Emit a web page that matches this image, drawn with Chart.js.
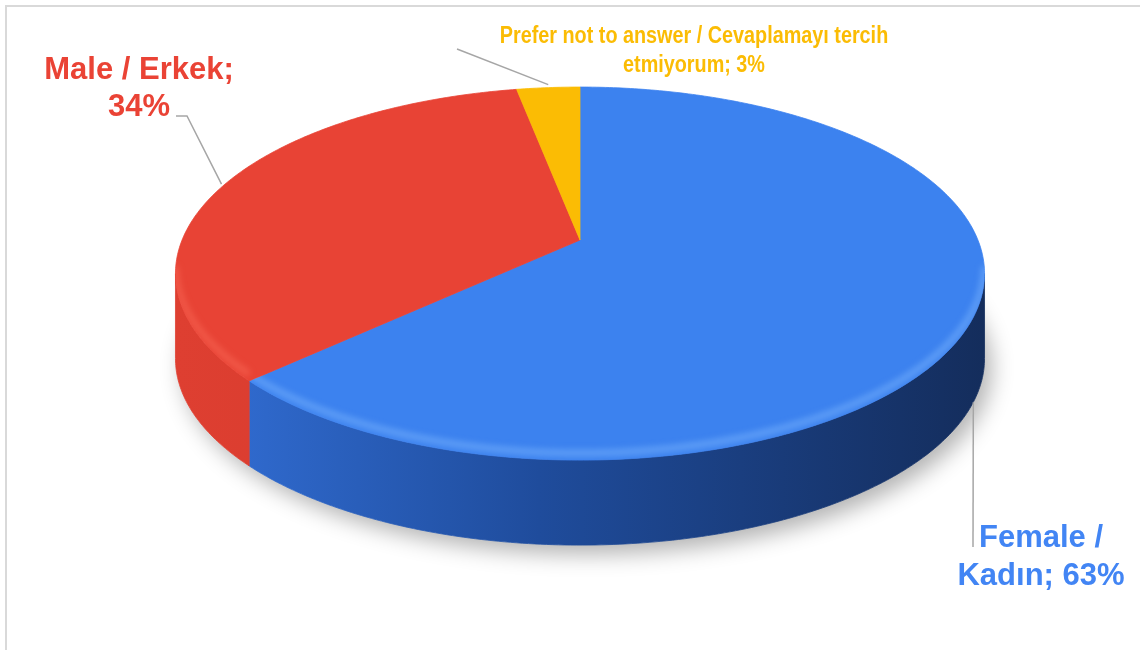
<!DOCTYPE html>
<html>
<head>
<meta charset="utf-8">
<title>Gender / Cinsiyet</title>
<script src="https://cdn.jsdelivr.net/npm/chart.js@4/dist/chart.umd.min.js"></script>
<style>
  body { margin: 0; background: #ffffff; }
  #wrap { width: 1140px; height: 650px; position: relative; }
</style>
</head>
<body>
<div id="wrap"><canvas id="genderChart" width="1140" height="650"></canvas></div>
<script>
'use strict'

// Survey answers
const categories = ['Female / Kadın', 'Male / Erkek', 'Prefer not to answer / Cevaplamayı tercih etmiyorum'];
const shares = [63, 34, 3];

// Colours
const topColors = ['#3c82ef', '#e84335', '#fbbc04'];
const labelColors = ['#4285f4', '#ea4335', '#fbbc04'];
const sideStops = [
  ['#3370d8', '#1f4c9c', '#142d5c'],
  ['#de3f31', '#d4392c', '#bf3226'],
  ['#e3aa00', '#d49d00', '#bb8900']
];
const rimGlow = ['rgba(130,185,255,0.55)', 'rgba(255,120,100,0.45)', 'rgba(255,225,120,0.5)'];

// 3D look of the pie: stretch relative to the library's radius
const pie3d = { stretchX: 1.658, stretchY: 0.752, perspective: 0.18, depth: 85 };

// Label placement
const labelLayout = [
  { x: 1041, y: 547, size: 31, gap: 38, maxWidth: 180, scaleX: 1, leader: [[973, 547]] },
  { x: 139, y: 79, size: 31, gap: 37, maxWidth: 200, scaleX: 1, leader: [[187, 116], [176, 116]] },
  { x: 694, y: 43, size: 24, gap: 29, maxWidth: 400, scaleX: 0.825, leader: [[457, 49]] }
];

const FONT = '"Liberation Sans", Arial, sans-serif';

function project(arc, a) {
  const x = Math.cos(a), z = Math.sin(a);
  const w = 1 - pie3d.perspective * z;
  return {
    x: arc.x + arc.outerRadius * pie3d.stretchX * x / w,
    y: arc.y + arc.outerRadius * pie3d.stretchY * z / w
  };
}

function tracePoints(ctx, arc, lo, hi, dy, reverse, first) {
  const steps = Math.max(6, Math.ceil((hi - lo) * 80));
  for (let k = 0; k <= steps; k++) {
    const t = reverse ? steps - k : k;
    const p = project(arc, lo + (hi - lo) * t / steps);
    if (first && k === 0) ctx.moveTo(p.x, p.y + dy);
    else ctx.lineTo(p.x, p.y + dy);
  }
}

function wrapWords(ctx, text, maxWidth, scaleX) {
  const words = text.split(' ');
  const lines = [];
  let line = '';
  words.forEach(w => {
    const test = line ? line + ' ' + w : w;
    if (line && ctx.measureText(test).width * scaleX > maxWidth) {
      lines.push(line);
      line = w;
    } else {
      line = test;
    }
  });
  if (line) lines.push(line);
  return lines;
}

const pie3dPlugin = {
  id: 'pie3d',
  beforeDraw(chart) {
    const ctx = chart.ctx;
    ctx.save();
    ctx.strokeStyle = '#d9d9d9';
    ctx.lineWidth = 2;
    ctx.strokeRect(6, 6, 1200, 700);
    ctx.restore();
  },
  beforeDatasetsDraw(chart) {
    const ctx = chart.ctx;
    const arcs = chart.getDatasetMeta(0).data;
    const ref = arcs[0];
    const edgeLo = Math.asin(pie3d.perspective);
    const edgeHi = Math.PI - edgeLo;
    const d = pie3d.depth;

    // soft shadow under the base
    ctx.save();
    ctx.shadowColor = 'rgba(0,0,0,0.30)';
    ctx.shadowBlur = 22;
    ctx.shadowOffsetX = 7;
    ctx.shadowOffsetY = 9;
    ctx.fillStyle = '#ffffff';
    ctx.beginPath();
    tracePoints(ctx, ref, -Math.PI, Math.PI, d, false, true);
    ctx.closePath();
    ctx.fill();
    ctx.restore();

    // side walls
    const left = project(ref, edgeHi).x, right = project(ref, edgeLo).x;
    arcs.forEach((arc, i) => {
      const lo = Math.max(arc.startAngle, edgeLo);
      const hi = Math.min(arc.endAngle, edgeHi);
      if (hi <= lo) return;
      const g = ctx.createLinearGradient(left, 0, right, 0);
      g.addColorStop(0, sideStops[i][0]);
      g.addColorStop(0.45, sideStops[i][1]);
      g.addColorStop(1, sideStops[i][2]);
      ctx.save();
      ctx.fillStyle = g;
      ctx.strokeStyle = g;
      ctx.lineWidth = 0.8;
      ctx.beginPath();
      tracePoints(ctx, arc, lo, hi, 0, false, true);
      tracePoints(ctx, arc, lo, hi, d, true, false);
      ctx.closePath();
      ctx.fill();
      ctx.stroke();
      ctx.restore();
    });

    // top faces
    arcs.forEach((arc, i) => {
      ctx.save();
      ctx.fillStyle = topColors[i];
      ctx.strokeStyle = topColors[i];
      ctx.lineWidth = 0.8;
      ctx.beginPath();
      ctx.moveTo(arc.x, arc.y);
      tracePoints(ctx, arc, arc.startAngle, arc.endAngle, 0, false, false);
      ctx.closePath();
      ctx.fill();
      ctx.stroke();
      ctx.restore();
    });

    // bevel highlight along the front rim
    arcs.forEach((arc, i) => {
      const lo = Math.max(arc.startAngle, edgeLo);
      const hi = Math.min(arc.endAngle, edgeHi);
      if (hi <= lo) return;
      ctx.save();
      ctx.beginPath();
      ctx.moveTo(arc.x, arc.y);
      tracePoints(ctx, arc, arc.startAngle, arc.endAngle, 0, false, false);
      ctx.closePath();
      ctx.clip();
      ctx.filter = 'blur(3px)';
      ctx.strokeStyle = rimGlow[i];
      ctx.lineWidth = 6;
      ctx.beginPath();
      tracePoints(ctx, arc, lo, hi, -7, false, true);
      ctx.stroke();
      ctx.restore();
    });
    return false;
  },
  afterDraw(chart) {
    const ctx = chart.ctx;
    const arcs = chart.getDatasetMeta(0).data;
    const edgeLo = Math.asin(pie3d.perspective);

    arcs.forEach((arc, i) => {
      const L = labelLayout[i];
      const mid = (arc.startAngle + arc.endAngle) / 2;
      const p = project(arc, mid);
      const front = Math.sin(mid) > edgeLo;
      const anchor = { x: p.x, y: front ? p.y + pie3d.depth : p.y - 3 };

      // leader line
      ctx.save();
      ctx.strokeStyle = '#a6a6a6';
      ctx.lineWidth = 1.5;
      ctx.beginPath();
      ctx.moveTo(anchor.x, anchor.y);
      L.leader.forEach(pt => ctx.lineTo(pt[0], pt[1]));
      ctx.stroke();
      ctx.restore();

      // label text
      ctx.save();
      ctx.font = 'bold ' + L.size + 'px ' + FONT;
      ctx.fillStyle = labelColors[i];
      ctx.textAlign = 'center';
      ctx.textBaseline = 'alphabetic';
      const text = categories[i] + '; ' + shares[i] + '%';
      const lines = wrapWords(ctx, text, L.maxWidth, L.scaleX);
      lines.forEach((ln, k) => {
        ctx.save();
        ctx.translate(L.x, L.y + k * L.gap);
        ctx.scale(L.scaleX, 1);
        ctx.fillText(ln, 0, 0);
        ctx.restore();
      });
      ctx.restore();
    });
  }
};

new Chart(document.getElementById('genderChart'), {
  type: 'pie',
  data: {
    labels: categories,
    datasets: [{
      data: shares,
      backgroundColor: topColors,
      borderWidth: 0
    }]
  },
  options: {
    responsive: false,
    maintainAspectRatio: false,
    animation: false,
    events: [],
    layout: { padding: { left: 20, right: 0, top: 0, bottom: 170 } },
    plugins: {
      legend: { display: false },
      tooltip: { enabled: false }
    }
  },
  plugins: [pie3dPlugin]
});
</script>
</body>
</html>
